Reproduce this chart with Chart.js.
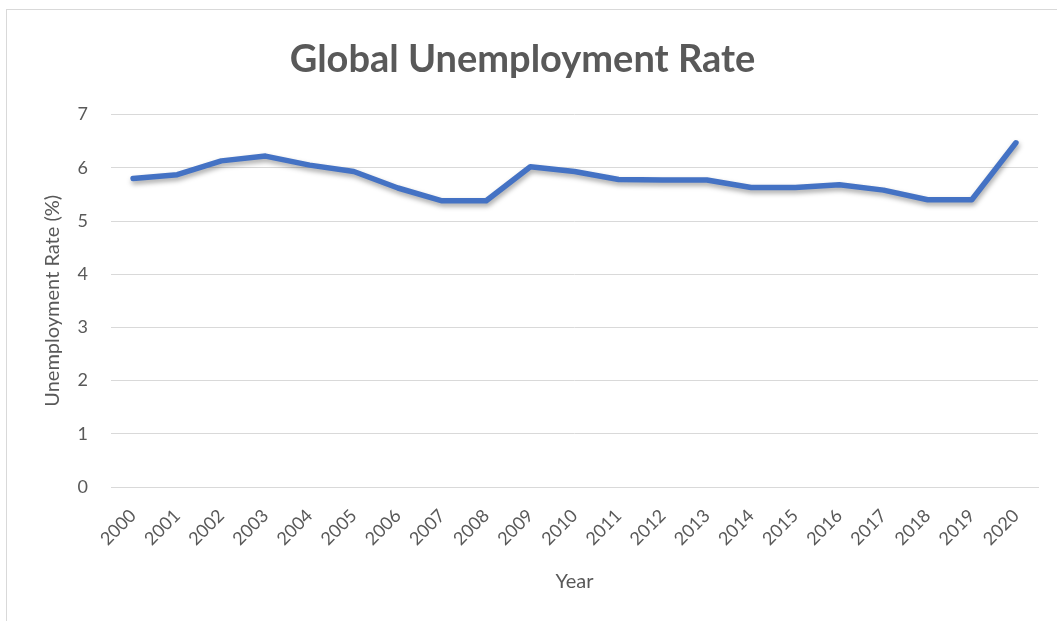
<!DOCTYPE html>
<html>
<head>
<meta charset="utf-8">
<title>Global Unemployment Rate</title>
<script src="https://cdn.jsdelivr.net/npm/chart.js@4.4.1/dist/chart.umd.min.js"></script>
<style>
  html, body { margin: 0; padding: 0; background: #fff; overflow: hidden; }
  #frame {
    position: absolute; left: 6px; top: 9px;
    width: 1060px; height: 620px;
    border: 1px solid #d9d9d9;
  }
</style>
</head>
<body>
<div id="frame"><canvas id="lineChart" width="1056" height="611"></canvas></div>
<script>
// data
const years = ['2000', '2001', '2002', '2003', '2004', '2005', '2006', '2007', '2008', '2009', '2010',
               '2011', '2012', '2013', '2014', '2015', '2016', '2017', '2018', '2019', '2020'];
const unemploymentRate = [5.80, 5.87, 6.13, 6.22, 6.05, 5.93, 5.62, 5.38, 5.38, 6.02, 5.93,
                          5.78, 5.77, 5.77, 5.63, 5.63, 5.68, 5.58, 5.40, 5.40, 6.47];
const yTicks = [0, 1, 2, 3, 4, 5, 6, 7];

const textGrey = '#595959';
const gridGrey = '#d9d9d9';
const baseFont = 'Lato, "Open Sans", sans-serif';

// soft drop shadow under the line, like the Office style
const lineShadow = {
    id: 'lineShadow',
    beforeDatasetDraw(chart) {
        const ctx = chart.ctx;
        ctx.save();
        ctx.shadowColor = 'rgba(0, 0, 0, 0.35)';
        ctx.shadowBlur = 5;
        ctx.shadowOffsetX = 1;
        ctx.shadowOffsetY = 3;
    },
    afterDatasetDraw(chart) {
        chart.ctx.restore();
    }
};

const ctx = document.getElementById('lineChart').getContext('2d');
const lineChart = new Chart(ctx, {
    type: 'line',
    data: {
        labels: years,
        datasets: [{
            label: 'Unemployment Rate (%)',
            data: unemploymentRate,
            borderColor: '#4472C4',
            borderWidth: 5.5,
            borderCapStyle: 'round',
            borderJoinStyle: 'round',
            pointRadius: 0,
            tension: 0,
            fill: false
        }]
    },
    options: {
        responsive: false,
        animation: false,
        layout: { padding: { left: 0, right: 25, top: 0, bottom: 0 } },
        plugins: {
            legend: { display: false },
            tooltip: { enabled: false },
            title: {
                display: true,
                text: 'Global Unemployment Rate',
                color: textGrey,
                font: { family: baseFont, size: 38, weight: 'bold' },
                padding: { top: 27, bottom: 32 }
            }
        },
        scales: {
            x: {
                offset: true,
                grid: { display: false, drawTicks: false },
                border: { display: true, color: gridGrey, width: 1 },
                ticks: {
                    color: textGrey,
                    font: { family: baseFont, size: 18 },
                    maxRotation: 45,
                    minRotation: 45,
                    padding: 18,
                    autoSkip: false
                },
                title: {
                    display: true,
                    text: 'Year',
                    color: textGrey,
                    font: { family: baseFont, size: 20 },
                    padding: { top: 0, bottom: 27 }
                },
                afterFit(scale) { scale.height = 134; }
            },
            y: {
                min: 0,
                max: 7,
                afterBuildTicks(scale) { scale.ticks = yTicks.map(v => ({ value: v })); },
                grid: { color: gridGrey, lineWidth: 1, drawTicks: false },
                border: { display: false },
                ticks: {
                    color: textGrey,
                    font: { family: baseFont, size: 18 },
                    padding: 23
                },
                title: {
                    display: true,
                    text: 'Unemployment Rate (%)',
                    color: textGrey,
                    font: { family: baseFont, size: 20 },
                    padding: { top: 34, bottom: 0 }
                },
                afterFit(scale) { scale.width = 104; }
            }
        }
    },
    plugins: [lineShadow]
});
</script>
</body>
</html>
